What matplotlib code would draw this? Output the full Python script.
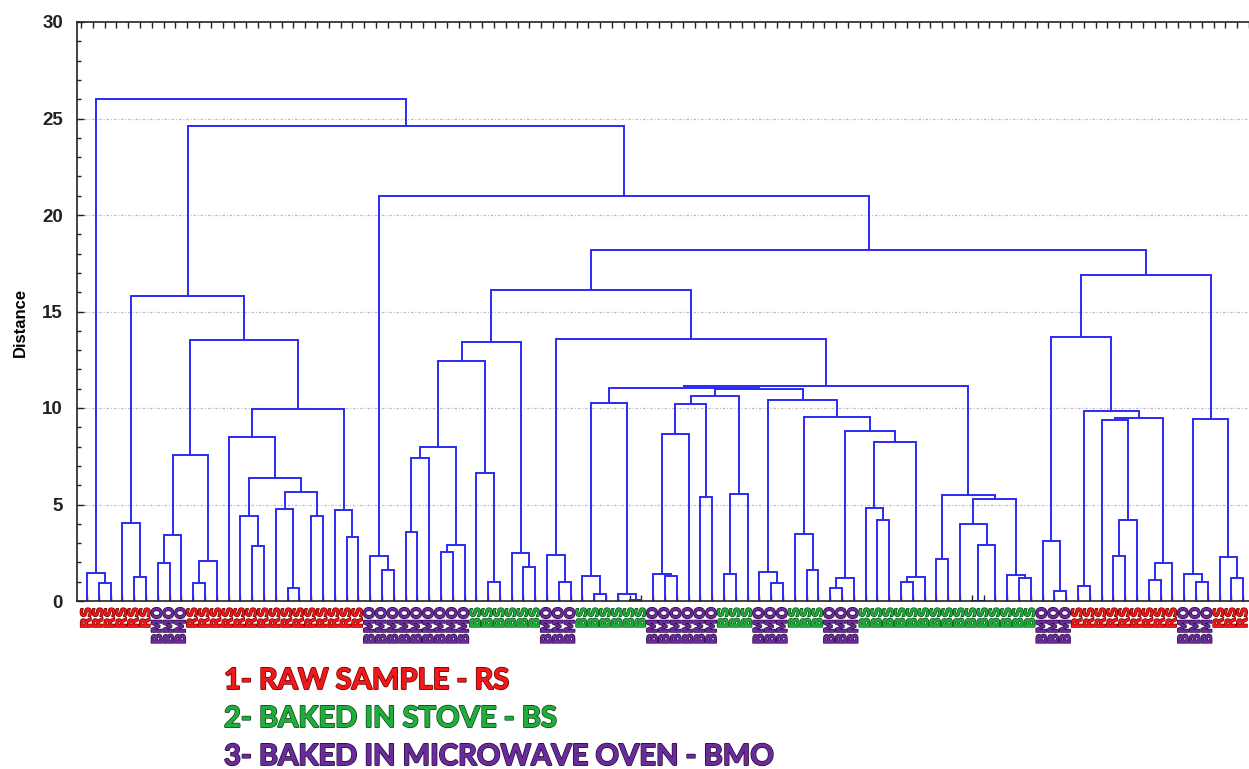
import matplotlib
matplotlib.use("Agg")
import matplotlib.pyplot as plt
import matplotlib.patheffects as pe

# ---------------- data ----------------
# leaf label groups (left to right) and their sizes
group_labels = ["RS", "BMO", "RS", "BMO", "BS", "BMO", "BS", "BMO", "BS",
                "BMO", "BS", "BMO", "BS", "BMO", "RS", "BMO", "RS"]
group_sizes = [6, 3, 15, 9, 6, 3, 6, 6, 3, 3, 3, 3, 15, 3, 9, 3, 3]

# dendrogram merges: (left, right, linkage distance); ints are leaves
A = (0, (1, 2, 0.95), 1.47)
B = (3, (4, 5, 1.23), 4.06)
C1 = (((6, 7, 1.95), 8, 3.40), ((9, 10, 0.95), 11, 2.09), 7.55)
C2a = (12, ((13, (14, 15, 2.85), 4.40),
            ((16, (17, 18, 0.66), 4.78), (19, 20, 4.40), 5.65), 6.37), 8.48)
C2b = (21, (22, 23, 3.33), 4.72)
C2 = (C2a, C2b, 9.93)
L1 = (B, (C1, C2, 13.5), 15.8)
D = (24, (25, 26, 1.60), 2.33)
P1 = ((((27, 28, 3.56), 29, 7.39), ((30, 31, 2.52), 32, 2.88), 7.96),
      (33, (34, 35, 1.00), 6.65), 12.45)
P = (P1, (36, (37, 38, 1.78), 2.47), 13.4)
Q1 = (39, (40, 41, 1.00), 2.38)
E1 = ((42, (43, 44, 0.35), 1.30), (45, (46, 47, 0.05), 0.35), 10.28)
F = ((((48, (49, 50, 1.31), 1.40), 51, 8.63), (52, 53, 5.40), 10.20),
     ((54, 55, 1.40), 56, 5.54), 10.64)
G = ((57, (58, 59, 0.95), 1.52),
     ((60, (61, 62, 1.60), 3.47),
      (((63, 64, 0.66), 65, 1.17),
       ((66, (67, 68, 4.20), 4.80), ((69, 70, 1.00), 71, 1.23), 8.26), 8.82), 9.55), 10.40)
H = ((72, 73, 2.18),
     ((74, ((75, 76, 0.0), 77, 2.90), 3.97), (78, (79, 80, 1.17), 1.35), 5.28), 5.49)
E = ((E1, (F, G, 11.00), 11.06), H, 11.14)
Q = (Q1, E, 13.6)
R1 = ((81, (82, 83, 0.52), 3.11),
      ((84, 85, 0.80),
       ((86, ((87, 88, 2.33), 89, 4.20), 9.40), ((90, 91, 1.09), 92, 1.99), 9.46), 9.84), 13.66)
R2 = ((93, (94, 95, 1.00), 1.40), (96, (97, 98, 1.17), 2.26), 9.41)
R = (R1, R2, 16.87)
S = ((P, Q, 16.1), R, 18.2)
T = (D, S, 21.0)
ROOT = (A, (L1, T, 24.6), 26.0)

legend_lines = ["1- RAW SAMPLE - RS", "2- BAKED IN STOVE - BS",
                "3- BAKED IN MICROWAVE OVEN - BMO"]

# ---------------- style ----------------
colors = {"RS": "#f01818", "BS": "#1fae3c", "BMO": "#6a2c9a"}
edge_colors = {"RS": "#700000", "BS": "#0b4a16", "BMO": "#2a0a40"}
line_color = "#2a2af5"
narrow = ["Liberation Sans Narrow", "Liberation Sans", "DejaVu Sans"]

labels = []
for g, n in zip(group_labels, group_sizes):
    labels += [g] * n
n_leaves = len(labels)

W, Hpx = 1249, 769
fig = plt.figure(figsize=(W / 100, Hpx / 100), dpi=100)
ax = fig.add_axes([77 / W, 168 / Hpx, (W - 77) / W, 579 / Hpx])

counter = [0]


def draw(node):
    if isinstance(node, int):
        x = counter[0]
        counter[0] += 1
        return x, 0.0
    left, right, h = node
    xl, hl = draw(left)
    xr, hr = draw(right)
    ax.plot([xl, xl, xr, xr], [hl, h, h, hr], color=line_color, lw=1.4,
            solid_joinstyle="miter", zorder=2)
    return (xl + xr) / 2.0, h


draw(ROOT)

spacing = 11.8
ax.set_xlim(-10 / spacing, (W - 87) / spacing)
ax.set_ylim(0, 30)

for s in ["left", "top", "bottom"]:
    ax.spines[s].set_linewidth(1.2)
    ax.spines[s].set_color("#222222")
    ax.spines[s].set_zorder(3)
ax.spines["right"].set_visible(False)

ax.set_yticks(range(0, 31, 5))
ax.set_yticks(range(0, 31), minor=True)
ax.set_yticklabels([str(v) for v in range(0, 31, 5)],
                   fontfamily=narrow, fontweight="bold", fontsize=13.5)
ax.tick_params(axis="y", which="major", direction="in", length=5, width=1, pad=10,
               colors="#222222")
ax.tick_params(axis="y", which="minor", direction="in", length=3, width=1,
               colors="#222222")

ax.set_xticks(range(n_leaves))
ax.set_xticks([i - 0.5 for i in range(n_leaves + 1)], minor=True)
ax.set_xticklabels(labels, rotation=90, fontsize=10.3, fontweight="bold",
                   fontfamily="DejaVu Sans", va="top")
ax.tick_params(axis="x", which="major", direction="in", length=4, width=1,
               pad=4.5, bottom=True, top=False, colors="#222222")
ax.tick_params(axis="x", which="minor", direction="in", length=4, width=1,
               bottom=False, top=True, colors="#222222")
for tl, lab in zip(ax.get_xticklabels(), labels):
    tl.set_color(colors[lab])
    tl.set_path_effects([pe.withStroke(linewidth=1.0, foreground=edge_colors[lab])])

for y in range(5, 30, 5):
    ax.axhline(y, color="#bdbdbd", lw=0.9, ls=(0, (2, 1.5, 0.8, 1.5)), zorder=1)

fig.text(20 / W, 1 - 322 / Hpx, "Distance", rotation=90, ha="center", va="center",
         fontfamily=narrow, fontweight="bold", fontsize=12)

legend_keys = ["RS", "BS", "BMO"]
legend_y = [681, 719, 757]
for txt, key, yy in zip(legend_lines, legend_keys, legend_y):
    t = fig.text(224 / W, 1 - yy / Hpx, txt, ha="left", va="center",
                 fontfamily=["Lato", "Open Sans", "DejaVu Sans"], fontweight="bold",
                 fontsize=21, color=colors[key])
    t.set_path_effects([pe.withStroke(linewidth=1.3, foreground=edge_colors[key]),
                        pe.Normal()])

fig.savefig("out.png", dpi=100)
